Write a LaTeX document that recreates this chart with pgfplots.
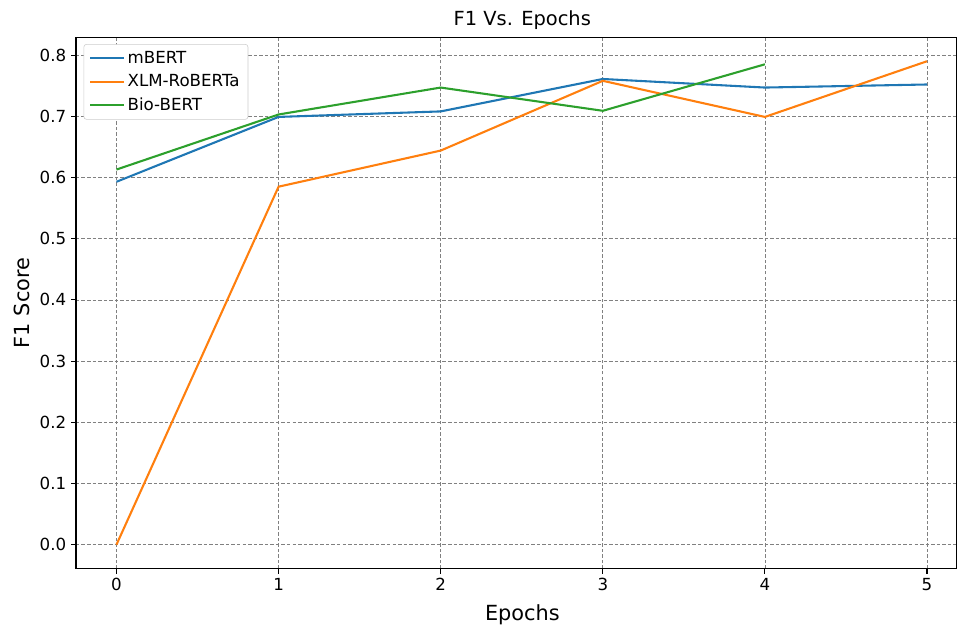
\documentclass[border=0pt]{standalone}
\usepackage{fontspec}
\setmainfont{DejaVu Sans}
\usepackage{pgfplots}
\pgfplotsset{compat=1.18}
\definecolor{c0}{HTML}{1F77B4}
\definecolor{c1}{HTML}{FF7F0E}
\definecolor{c2}{HTML}{2CA02C}
\begin{document}
\begin{tikzpicture}
\begin{axis}[
  scale only axis,
  width=634pt, height=383pt,
  xmin=-0.25, xmax=5.18,
  ymin=-0.0395, ymax=0.8295,
  xtick={0,1,2,3,4,5},
  ytick={0,0.1,0.2,0.3,0.4,0.5,0.6,0.7,0.8},
  yticklabel style={/pgf/number format/.cd, fixed, fixed zerofill, precision=1},
  /pgf/number format/assume math mode=true,
  ticklabel style={font=\fontsize{12}{14}\selectfont},
  tick align=outside, tick pos=left,
  major tick length=3.5pt,
  every tick/.style={black, line width=0.8pt},
  axis line style={line width=0.8pt},
  grid=major,
  major grid style={dash pattern=on 2.5pt off 1.5pt, gray, line width=0.5pt},
  title={F1 Vs. Epochs},
  title style={font=\fontsize{14}{16}\selectfont, yshift=-4pt, xshift=4.5pt},
  xlabel={Epochs}, ylabel={F1 Score},
  label style={font=\fontsize{15}{17}\selectfont},
  xlabel style={yshift=-3pt, xshift=4.5pt},
  legend style={at={(axis description cs:0,1)}, anchor=north west, xshift=5.5pt, yshift=-5pt,
    font=\fontsize{12}{14}\selectfont, draw=black!20, rounded corners=2pt, row sep=2.5pt,
    inner xsep=4pt, inner ysep=3pt},
  legend cell align=left,
  legend image code/.code={\draw[#1] (0pt,0pt) -- (24pt,0pt);},
  every axis plot/.append style={line width=1.5pt, no marks},
]
\addplot[c0] coordinates {(0,0.593) (1,0.699) (2,0.708) (3,0.761) (4,0.747) (5,0.752)};
\addplot[c1] coordinates {(0,0.0) (1,0.585) (2,0.644) (3,0.758) (4,0.699) (5,0.790)};
\addplot[c2] coordinates {(0,0.613) (1,0.703) (2,0.747) (3,0.709) (4,0.785)};
\legend{mBERT, XLM-RoBERTa, Bio-BERT}
\coordinate (sw) at (rel axis cs:0,0);
\end{axis}
\path (sw) ++(-54.7pt,-41pt) rectangle ++(690pt,450.7pt);
\end{tikzpicture}
\end{document}
